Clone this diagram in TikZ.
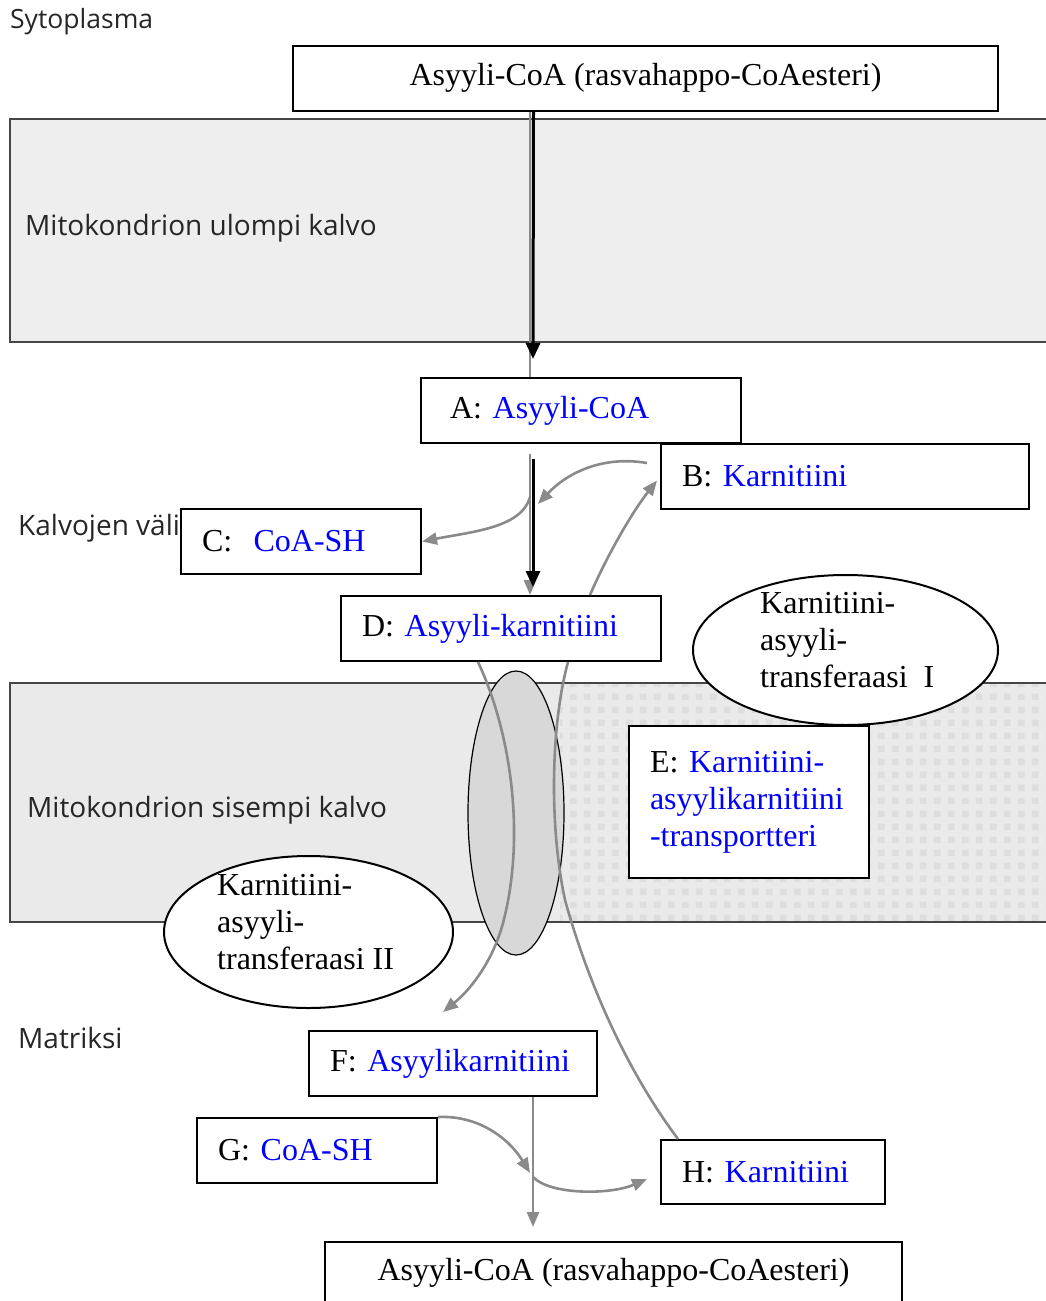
\documentclass[tikz,border=0pt]{standalone}
\usepackage{fontspec}
\setmainfont{Liberation Serif}
\newfontfamily\labelfont{Open Sans}
\usetikzlibrary{shapes.geometric,arrows.meta,patterns}
\definecolor{arrowgray}{RGB}{138,138,138}
\definecolor{outerfill}{RGB}{238,238,238}
\definecolor{innerfill}{RGB}{234,234,234}
\definecolor{transfill}{RGB}{216,216,216}
\definecolor{membline}{RGB}{70,70,70}
\pgfdeclarepatternformonly{membdots}{\pgfpointorigin}{\pgfpoint{13.5pt}{13pt}}{\pgfpoint{13.5pt}{13pt}}{%
  \pgfpathrectangle{\pgfpoint{3pt}{3pt}}{\pgfpoint{7pt}{7pt}}\pgfusepath{fill}}
\hyphenpenalty=10000
\exhyphenpenalty=10000
\begin{document}
\begin{tikzpicture}[x=1pt,y=-1pt,
  box/.style={draw, line width=2pt, fill=white, minimum height=65pt, inner xsep=21pt, inner ysep=0pt, align=left, font=\fontsize{32}{37}\selectfont},
  enz/.style={draw, ellipse, line width=2pt, fill=white, inner sep=0pt},
  enztext/.style={anchor=west, align=left, inner sep=0pt, font=\fontsize{32}{37}\selectfont},
  conn/.style={draw=arrowgray, line width=2.6pt, -{Triangle[length=15pt,width=12pt]}},
  plainconn/.style={draw=arrowgray, line width=2.6pt},
  mainarrow/.style={draw=black, line width=3pt, -{Triangle[length=16pt,width=14pt]}},
  sidelabel/.style={anchor=west, inner sep=0pt, text=black!85, font=\labelfont\fontsize{28}{32}\selectfont},
  membrane/.style={draw=membline, line width=1.6pt}
]
\useasboundingbox (0,0) rectangle (1046,1301);

% membranes
\fill[outerfill] (10,119) rectangle (1046,342);
\draw[membrane] (1046,119) -- (10,119) -- (10,342) -- (1046,342);
\fill[innerfill] (10,683) rectangle (1046,922);
\fill[pattern=membdots, pattern color=black!13] (560,684) rectangle (1046,921);
\draw[membrane] (1046,683) -- (10,683) -- (10,922) -- (1046,922);

% side labels
\node[sidelabel, font=\labelfont\fontsize{26.5}{30}\selectfont] (lcyto) at (10,22) {Sytoplasma};
\node[sidelabel] (louter) at (25,228) {Mitokondrion ulompi kalvo};
\node[sidelabel] (linter) at (18,528) {Kalvojen väli};
\node[sidelabel] (linner) at (27,810) {Mitokondrion sisempi kalvo};
\node[sidelabel] (lmatrix) at (18,1038) {Matriksi};

% transporter
\node[draw, ellipse, line width=1.2pt, fill=transfill, minimum width=96pt, minimum height=284pt, inner sep=0pt] (T) at (516,813) {};

% boxes
\node[box, minimum width=705pt, align=center] (top) at (645.5,78) {Asyyli-CoA (rasvahappo-CoAesteri)};
\node[box, text width=262pt, inner xsep=29pt] (A) at (581,410.5) {A: \textcolor{blue}{Asyyli-CoA}};
\node[box, text width=326pt] (B) at (845,476.5) {B: \textcolor{blue}{Karnitiini}};
\node[box, text width=198pt] (C) at (301,541.5) {C:~~\textcolor{blue}{CoA-SH}};
\node[box, text width=278pt] (D) at (501,628.5) {D: \textcolor{blue}{Asyyli-karnitiini}};
\node[box, text width=198pt, minimum height=152pt] (E) at (749,802) {E: \textcolor{blue}{Karnitiini-}\\\textcolor{blue}{asyylikarnitiini}\\\textcolor{blue}{-transportteri}\par\vspace{18pt}};
\node[box, text width=246pt] (F) at (453,1063.5) {F: \textcolor{blue}{Asyylikarnitiini}};
\node[box, text width=198pt] (G) at (317,1150.5) {G: \textcolor{blue}{CoA-SH}};
\node[box, text width=182pt, minimum height=64pt] (H) at (773,1172) {H: \textcolor{blue}{Karnitiini}};
\node[box, minimum width=577pt, minimum height=62pt, align=center] (bot) at (613.5,1273) {Asyyli-CoA (rasvahappo-CoAesteri)};

% enzymes
\node[enz, minimum width=305pt, minimum height=150pt] (cat1) at (845.5,650) {};
\node[enztext] (cat1t) at (760,640) {Karnitiini-\\asyyli-\\transferaasi~~I};
\node[enz, minimum width=289pt, minimum height=152pt] (cat2) at (308.5,932) {};
\node[enztext] (cat2t) at (217,922) {Karnitiini-\\asyyli-\\transferaasi II};

% junction coordinates
\coordinate (j1) at (538,504);
\coordinate (j2) at (530,497);
\coordinate (j3) at (443,1012);
\coordinate (j4) at (530,1173);
\coordinate (j5) at (533,1177);

% connectors
\draw[plainconn] ([xshift=-115.5pt]top.south) -- ([xshift=-51pt]A.north);
\draw[mainarrow] ([xshift=-112pt]top.south) -- ([xshift=-48pt,yshift=18pt]A.north);
\draw[conn] ([xshift=-51pt,yshift=-10pt]A.south) -- ([xshift=29pt]D.north);
\draw[mainarrow] ([xshift=-48pt,yshift=-15pt]A.south) -- ([xshift=32pt,yshift=8pt]D.north);
\draw[conn] ([xshift=-13pt,yshift=13.5pt]B.west) .. controls (600,455) and (565,475) .. (j1);
\draw[conn] (j2) .. controls (522,528) and (470,532) .. (C.east);
\draw[conn] ([xshift=89pt]D.north) .. controls (605,560) and (630,515) .. ([xshift=-3pt,yshift=-4pt]B.west);
\draw[conn] ([xshift=-23pt]D.south) .. controls (510,730) and (525,830) .. (505,915) .. controls (495,960) and (470,990) .. (j3);
\draw[plainconn] ([xshift=-95pt]H.north) .. controls (630,1075) and (590,990) .. (565,900) .. controls (548,820) and (552,720) .. ([xshift=67pt]D.south);
\draw[conn] ([xshift=80pt]F.south) -- ([xshift=-80.5pt,yshift=14pt]bot.north);
\draw[conn] (G.north east) .. controls (480,1115) and (510,1140) .. (j4);
\draw[conn] (j5) .. controls (550,1195) and (610,1195) .. ([xshift=-13pt,yshift=-7pt]H.west);
\end{tikzpicture}
\end{document}
